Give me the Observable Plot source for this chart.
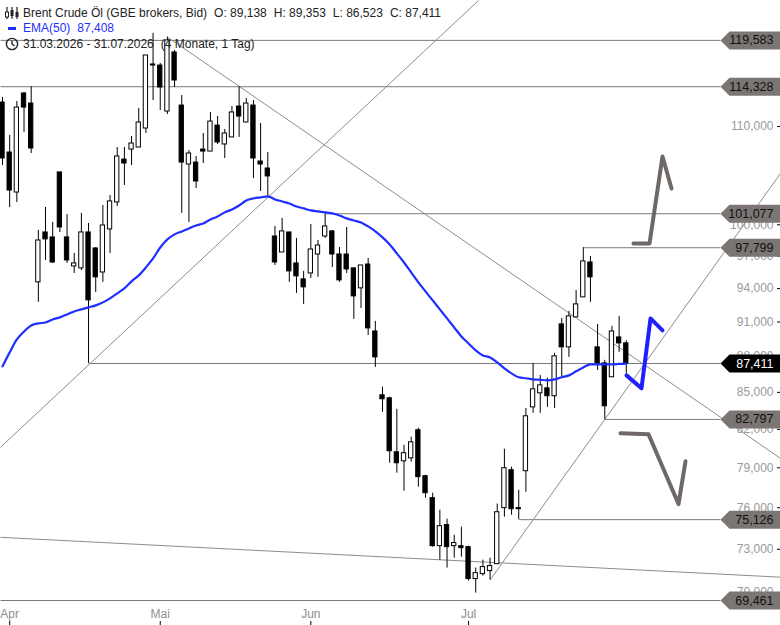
<!DOCTYPE html>
<html>
<head>
<meta charset="utf-8">
<script src="https://cdn.jsdelivr.net/npm/d3@7"></script>
<script src="https://cdn.jsdelivr.net/npm/@observablehq/plot@0.6"></script>
<style>
  body { margin: 0; background: #fff; font-family: "Liberation Sans", Arial, sans-serif; }
  #wrap { position: relative; width: 780px; height: 625px; overflow: hidden; }
  .row { position: absolute; left: 0; height: 14px; line-height: 14px; font-size: 12px; color: #222; white-space: nowrap; pointer-events: none; }
  .row svg { position: absolute; left: 4px; top: 0; }
  .row .t { position: absolute; left: 23px; top: 0; }
  .row .t span { margin-left: 7px; }
  .blue { color: #1f2fff; }
</style>
</head>
<body>
<div id="wrap">
  <div id="chart"></div>
  <div class="row" style="top:6px">
    <svg width="16" height="14" viewBox="0 0 16 14">
      <line x1="3" y1="1" x2="3" y2="13" stroke="#222" stroke-width="1.2"/>
      <rect x="1.5" y="6" width="3" height="5" fill="#fff" stroke="#222" stroke-width="1"/>
      <line x1="8" y1="1" x2="8" y2="13" stroke="#222" stroke-width="1.2"/>
      <rect x="6.5" y="4" width="3" height="6" fill="#222"/>
      <line x1="13" y1="1" x2="13" y2="13" stroke="#222" stroke-width="1.2"/>
      <rect x="11.5" y="6" width="3" height="5" fill="#222"/>
    </svg>
    <div class="t" id="title"></div>
  </div>
  <div class="row" style="top:21px">
    <svg width="16" height="14" viewBox="0 0 16 14"><rect x="4" y="6" width="8" height="3" fill="#1f2fff"/></svg>
    <div class="t blue" id="emaLabel"></div>
  </div>
  <div class="row" style="top:37px">
    <svg width="16" height="14" viewBox="0 0 16 14">
      <circle cx="8" cy="7" r="5.6" fill="none" stroke="#222" stroke-width="1.4"/>
      <polyline points="8,3.5 8,7 10.5,9" fill="none" stroke="#222" stroke-width="1.3"/>
    </svg>
    <div class="t" id="range"></div>
  </div>
</div>
<script>
// ---------------- data ----------------
const instrument = "Brent Crude Öl (GBE brokers, Bid)";
const periodText = "31.03.2026 - 31.07.2026";
const periodLength = "(4 Monate, 1 Tag)";
const emaName = "EMA(50)";

const open  = [112.59,107.26,103.18,113.58,112.48,94.57,99.26,98.78,105.21,98.78,96.04,95.86,99.26,97.73,95.48,99.55,102.19,106.53,107.57,107.78,109.79,116.82,116.70,111.61,118.19,112.26,106.02,106.22,107.57,107.36,110.10,108.10,108.84,112.15,110.43,112.26,106.33,105.61,98.87,97.35,99.26,96.32,94.84,95.39,97.16,98.87,99.36,97.16,97.16,95.86,94.02,96.22,90.17,84.76,84.51,80.20,79.50,79.73,81.93,78.36,76.71,73.22,74.73,73.22,73.22,73.15,70.92,71.26,71.47,71.95,75.97,78.82,75.97,78.74,83.77,84.92,85.33,84.68,90.79,88.79,91.41,93.20,96.41,88.79,87.42,86.25,89.65,89.138];
const high  = [113.14,109.05,112.70,113.69,114.33,99.45,101.69,100.23,105.21,101.01,97.26,101.11,100.13,97.82,101.89,102.88,107.78,107.78,108.94,111.94,117.84,120.40,116.94,119.97,118.42,113.36,107.47,106.85,109.26,111.51,111.07,109.69,112.15,114.33,113.03,112.81,110.32,107.26,99.84,100.62,99.26,98.68,95.58,100.03,98.49,101.08,99.45,97.82,99.74,95.86,96.13,96.79,91.05,85.42,84.60,83.61,80.75,81.38,82.09,78.44,77.08,75.82,75.16,74.00,74.58,73.22,71.68,72.23,72.37,76.27,80.44,79.05,77.30,83.69,87.42,86.41,86.17,88.28,91.32,91.94,93.83,97.80,96.98,90.79,87.68,90.61,91.50,89.353];
const low   = [105.91,101.69,102.19,109.37,107.16,92.75,96.60,96.32,99.26,96.32,95.39,95.67,87.41,93.65,94.57,97.26,101.79,103.89,105.91,107.78,109.26,112.81,111.72,111.29,114.24,101.11,100.23,103.58,106.12,107.36,108.10,106.64,108.84,108.84,110.43,104.59,103.28,102.69,96.13,97.35,94.57,93.56,92.57,94.93,95.03,98.68,95.95,94.57,95.39,91.23,92.21,89.82,87.08,83.37,79.35,78.59,77.23,79.43,77.53,76.71,73.15,72.23,71.68,72.37,72.44,70.78,69.96,71.12,70.85,71.95,75.31,75.45,75.13,77.15,83.29,83.29,83.77,83.69,86.25,87.93,91.41,93.20,92.75,86.83,82.80,86.25,88.36,86.523];
const close = [106.64,103.38,112.04,112.04,107.68,98.49,98.59,96.41,99.74,96.60,96.32,99.26,92.93,95.03,99.93,102.29,106.85,106.12,108.20,110.43,117.84,116.70,114.24,119.58,115.02,106.22,107.16,104.29,107.36,110.53,108.31,109.26,111.51,111.07,112.48,106.64,106.02,104.80,96.41,99.36,95.58,95.12,94.11,97.63,98.01,99.84,97.16,94.75,95.76,93.29,96.13,90.44,87.93,84.43,80.28,79.35,80.13,80.98,78.29,77.08,73.22,74.65,73.15,73.44,73.08,70.92,71.33,71.75,71.82,75.67,78.97,75.89,75.89,83.05,85.25,85.58,84.68,88.02,88.79,91.50,92.57,96.51,95.03,87.42,83.86,90.17,89.13,87.411];
const ema50 = [87.17,88.36,89.48,90.17,90.70,90.88,90.96,91.23,91.41,91.67,91.94,92.12,92.30,92.48,92.75,93.11,93.56,94.02,94.66,95.21,95.95,96.79,97.82,98.59,99.07,99.36,99.65,99.93,100.13,100.52,100.81,101.21,101.50,101.89,102.39,102.59,102.69,102.79,102.49,102.29,102.09,101.79,101.60,101.40,101.30,101.21,101.11,100.91,100.62,100.42,100.23,99.84,99.36,98.78,98.11,97.26,96.41,95.48,94.57,93.74,92.93,92.12,91.32,90.52,89.74,89.13,88.53,88.10,87.93,87.51,87.00,86.58,86.25,86.17,86.08,86.04,86.00,86.08,86.25,86.41,86.75,87.08,87.34,87.34,87.34,87.34,87.38,87.408];

// month ticks (candle index) and labels
const monthTicks  = [1, 22, 43, 65];
const monthLabels = ["Apr", "Mai", "Jun", "Jul"];

// price axis ticks
const priceTicks = [70, 73, 76, 79, 82, 85, 88, 91, 94, 97, 100, 110];

// horizontal levels: value, candle where the line starts (null = left edge)
const levelValues = [119.583, 114.328, 101.077, 97.799, 87.411, 82.797, 75.126, 69.461];
const levelFrom   = [null, null, 45, 81, 12, 84, 72, null];
const currentPrice = 87.411;

// trend lines: [candle index, price] start and end points
const trendStart = [[-0.28, 80.59], [23, 119.97], [68, 70.85], [-0.28, 73.85]];
const trendEnd   = [[66.39, 124.3], [108.5, 79.73], [108.5, 105.10], [108.5, 71.05]];

// projected scenarios (index, price)
const scenUpX   = [88.0, 90.24, 92.05, 93.31];
const scenUpY   = [98.20, 98.20, 106.85, 103.58];
const scenDownX = [86.19, 90.1, 94.28, 95.26];
const scenDownY = [81.69, 81.61, 76.27, 79.50];
const scenMainX = [87.03, 89.12, 90.38, 92.05];
const scenMainY = [86.41, 85.33, 91.32, 90.26];

// ---------------- build ----------------
const fmt = v => v.toFixed(3).replace(".", ",");
const xDomain = [-0.28, 100.14];
const yDomain = [69.461, 124.3];

document.getElementById("title").innerHTML =
  `${instrument}<span>O: ${fmt(open[open.length-1])}</span><span>H: ${fmt(high[high.length-1])}</span><span>L: ${fmt(low[low.length-1])}</span><span>C: ${fmt(close[close.length-1])}</span>`;
document.getElementById("emaLabel").innerHTML = `${emaName}<span>${fmt(ema50[ema50.length-1])}</span>`;
document.getElementById("range").innerHTML = `${periodText}<span>${periodLength}</span>`;

const candles = close.map((c, i) => ({i, o: open[i], h: high[i], l: low[i], c}));
const emaData = ema50.map((v, i) => ({i, v}));
const levels = levelValues.map((v, k) => ({v, from: levelFrom[k] == null ? xDomain[0] : levelFrom[k], cur: v === currentPrice}));
const trends = trendStart.map((s, k) => ({x1: s[0], y1: s[1], x2: trendEnd[k][0], y2: trendEnd[k][1]}));
const scen = (xs, ys, s) => xs.map((x, k) => ({x, y: ys[k], s}));
const scenGray = [...scen(scenUpX, scenUpY, "up"), ...scen(scenDownX, scenDownY, "down")];
const scenBlue = scen(scenMainX, scenMainY, "main");

const tagSymbol = {
  draw(ctx) {
    ctx.moveTo(-30, 0);
    ctx.lineTo(-21, -9);
    ctx.lineTo(30, -9);
    ctx.lineTo(30, 9);
    ctx.lineTo(-21, 9);
    ctx.closePath();
  }
};

const chart = Plot.plot({
  width: 780,
  height: 625,
  marginLeft: 0,
  marginRight: 60,
  marginTop: 0,
  marginBottom: 25,
  style: {fontFamily: '"Liberation Sans", Arial, sans-serif', fontSize: "12px", background: "#fff", overflow: "visible"},
  x: {type: "linear", domain: xDomain},
  y: {type: "log", domain: yDomain},
  marks: [
    Plot.link(levels, {x1: "from", x2: () => xDomain[1], y1: "v", y2: "v", stroke: "#7a7a7a", strokeWidth: 1}),
    Plot.link(trends, {x1: "x1", y1: "y1", x2: "x2", y2: "y2", stroke: "#8c8c8c", strokeWidth: 1}),
    Plot.ruleX(candles, {x: "i", y1: "l", y2: "h", stroke: "#000", strokeWidth: 1}),
    Plot.rect(candles, {x1: d => d.i - 0.3, x2: d => d.i + 0.3, y1: "o", y2: "c",
      fill: d => d.c >= d.o ? "#fff" : "#000", stroke: "#000", strokeWidth: 1}),
    Plot.line(emaData, {x: "i", y: "v", stroke: "#1f2fff", strokeWidth: 2.2, curve: "monotone-x"}),
    Plot.line(scenGray, {x: "x", y: "y", z: "s", stroke: "#6e6966", strokeWidth: 4}),
    Plot.line(scenBlue, {x: "x", y: "y", stroke: "#1f1fff", strokeWidth: 4}),
    // price axis
    Plot.axisY(priceTicks, {anchor: "right", tickSize: 0, textAnchor: "end", dx: 44, tickFormat: fmt, fill: "#9a9a9a", fontSize: 12}),
    Plot.axisY(priceTicks, {anchor: "right", tickSize: 4, dx: 56, tickFormat: () => "", stroke: "#000"}),
    // time axis
    Plot.axisX(monthTicks, {anchor: "bottom", tickSize: 0, tickFormat: d => monthLabels[monthTicks.indexOf(d)], fill: "#8f8f8f", fontSize: 12}),
    Plot.axisX(monthTicks, {anchor: "bottom", tickSize: 4, dy: 21, tickFormat: () => "", stroke: "#000"}),
    // level tags
    Plot.dot(levels, {y: "v", frameAnchor: "right", dx: 30, symbol: tagSymbol, fill: d => d.cur ? "#000" : "#7b7673", stroke: null}),
    Plot.text(levels, {y: "v", frameAnchor: "right", dx: 53, textAnchor: "end", text: d => fmt(d.v),
      fill: d => d.cur ? "#fff" : "#111", fontSize: 12.5})
  ]
});
document.getElementById("chart").appendChild(chart);
</script>
</body>
</html>
